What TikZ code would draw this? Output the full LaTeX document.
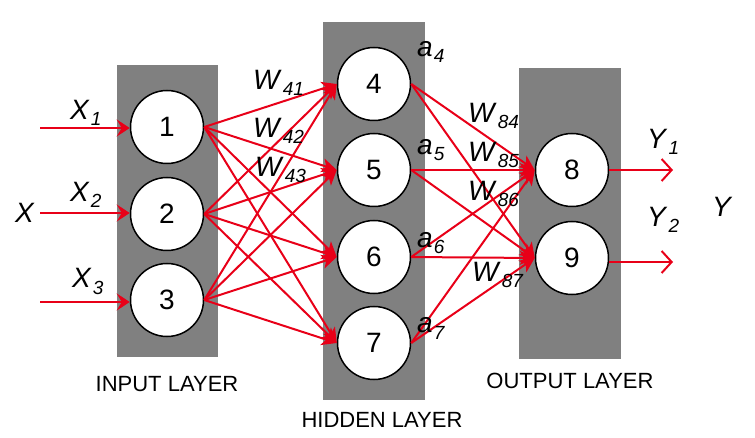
\documentclass[tikz,border=0pt]{standalone}
\usepackage{fontspec}
\setmainfont{Liberation Sans}
\usepackage{tikz}
\usetikzlibrary{arrows.meta}
\usepackage{xcolor}
\definecolor{edgered}{RGB}{232,0,24}
\newcommand{\sublbl}[2]{\textit{#1}\hspace{1pt}\raisebox{-6pt}{\fontsize{19}{19}\selectfont\textit{#2}}}

\begin{document}
\begin{tikzpicture}[
    x=1pt, y=-1pt,
    layerbg/.style={fill=gray},
    neuron/.style={circle, draw=black, line width=1.5pt, fill=white, minimum size=73pt,
                   inner sep=0pt, font=\fontsize{28}{30}\selectfont},
    edge/.style={-{Stealth[length=15pt, width=14pt, inset=4pt]}, line width=2pt, edgered},
    inarr/.style={-{Stealth[length=13pt, width=17pt, inset=5pt]}, line width=2pt, edgered},
    outarr/.style={-{Straight Barb[length=10pt, width=22pt]}, line width=2pt, edgered},
    wlbl/.style={anchor=base west, inner sep=0pt, font=\fontsize{28}{30}\selectfont},
    layername/.style={anchor=base, inner sep=0pt, font=\fontsize{22}{24}\selectfont}
  ]
  \useasboundingbox (0,0) rectangle (755,438);

  % --- layer backgrounds ---
  \fill[layerbg] (117,65) rectangle (218,357);
  \fill[layerbg] (323,22) rectangle (425,400);
  \fill[layerbg] (519,68) rectangle (621,359);

  % --- input layer ---
  \node[neuron] (n1) at (167,127) {1};
  \node[neuron] (n2) at (167,214) {2};
  \node[neuron] (n3) at (167,300) {3};
  \coordinate (x1) at (40,128);
  \coordinate (x2) at (40,213);
  \coordinate (x3) at (40,302);
  \draw[inarr] (x1) -- (n1.west |- x1);
  \draw[inarr] (x2) -- (n2.west |- x2);
  \draw[inarr] (x3) -- (n3.west |- x3);

  % --- hidden layer ---
  \node[neuron] (n4) at (374,84) {4};
  \node[neuron] (n5) at (374,170) {5};
  \node[neuron] (n6) at (374,257) {6};
  \node[neuron] (n7) at (374,343) {7};

  % --- output layer ---
  \node[neuron] (n8) at (572,170) {8};
  \node[neuron] (n9) at (572,258) {9};
  \coordinate (y1) at (673,170);
  \coordinate (y2) at (673,262);
  \draw[outarr] (n8.east |- y1) -- (y1);
  \draw[outarr] (n9.east |- y2) -- (y2);

  % input -> hidden
  \draw[edge] (n1.east) -- (n4.west);
  \draw[edge] (n1.east) -- (n5.west);
  \draw[edge] (n1.east) -- (n6.west);
  \draw[edge] (n1.east) -- (n7.west);
  \draw[edge] (n2.east) -- (n4.west);
  \draw[edge] (n2.east) -- (n5.west);
  \draw[edge] (n2.east) -- (n6.west);
  \draw[edge] (n2.east) -- (n7.west);
  \draw[edge] (n3.east) -- (n4.west);
  \draw[edge] (n3.east) -- (n5.west);
  \draw[edge] (n3.east) -- (n6.west);
  \draw[edge] (n3.east) -- (n7.west);

  % hidden -> output
  \draw[edge] (n4.east) -- (n8.west);
  \draw[edge] (n4.east) -- (n9.west);
  \draw[edge] (n5.east) -- (n8.west);
  \draw[edge] (n5.east) -- (n9.west);
  \draw[edge] (n6.east) -- (n8.west);
  \draw[edge] (n6.east) -- (n9.west);
  \draw[edge] (n7.east) -- (n8.west);
  \draw[edge] (n7.east) -- (n9.west);

  % --- labels ---
  \node[wlbl] (lx)  at (15,223)  {\textit{X}};
  \node[wlbl] (lx1) at (70,120)  {\sublbl{X}{1}};
  \node[wlbl] (lx2) at (70,202)  {\sublbl{X}{2}};
  \node[wlbl] (lx3) at (72,288)  {\sublbl{X}{3}};
  \node[wlbl] (lw41) at (253,90)  {\sublbl{W}{41}};
  \node[wlbl] (lw42) at (253,138) {\sublbl{W}{42}};
  \node[wlbl] (lw43) at (255,177) {\sublbl{W}{43}};
  \node[wlbl] (la4) at (417,57)  {\sublbl{a}{4}};
  \node[wlbl] (la5) at (417,155) {\sublbl{a}{5}};
  \node[wlbl] (la6) at (417,248) {\sublbl{a}{6}};
  \node[wlbl] (la7) at (417,333) {\sublbl{a}{7}};
  \node[wlbl] (lw84) at (468,123) {\sublbl{W}{84}};
  \node[wlbl] (lw85) at (468,162) {\sublbl{W}{85}};
  \node[wlbl] (lw86) at (468,201) {\sublbl{W}{86}};
  \node[wlbl] (lw87) at (472,282) {\sublbl{W}{87}};
  \node[wlbl] (ly1) at (647,149) {\sublbl{Y}{1}};
  \node[wlbl] (ly2) at (647,227) {\sublbl{Y}{2}};
  \node[wlbl] (ly)  at (712,217) {\textit{Y}};

  \node[layername] (inname)  at (167,391) {INPUT LAYER};
  \node[layername] (hidname) at (382,427) {HIDDEN LAYER};
  \node[layername] (outname) at (570,388) {OUTPUT LAYER};
\end{tikzpicture}
\end{document}
